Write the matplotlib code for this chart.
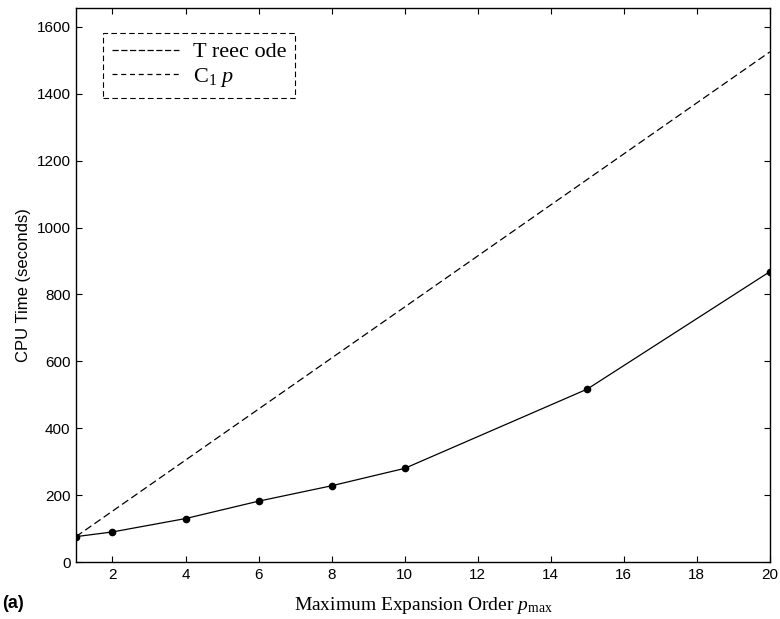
import numpy as np
import matplotlib
matplotlib.use("Agg")
import matplotlib.pyplot as plt
from matplotlib.lines import Line2D

# treecode timings
p_tree = [1, 2, 4, 6, 8, 10, 15, 20]
t_tree = [76, 90, 130, 182, 228, 280, 517, 868]

# reference line C1*p (end points)
p_ref = [1, 20]
t_ref = [76, 1525]

x_ticks = [2, 4, 6, 8, 10, 12, 14, 16, 18, 20]
y_ticks = [0, 200, 400, 600, 800, 1000, 1200, 1400, 1600]

plt.rcParams["mathtext.fontset"] = "custom"
plt.rcParams["mathtext.rm"] = "Liberation Serif"
plt.rcParams["mathtext.it"] = "Liberation Serif:italic"

fig = plt.figure(figsize=(7.8, 6.19), dpi=100)
ax = fig.add_axes([0.0974, 0.092, 0.8896, 0.895])

ax.plot(p_tree, t_tree, color="black", lw=0.9, marker="o", ms=4.5)
ax.plot(p_ref, t_ref, color="black", lw=0.9, ls=(0, (6, 3)))

ax.set_xlim(1, 20)
ax.set_ylim(0, 1656)
ax.set_xticks(x_ticks)
ax.set_yticks(y_ticks)
ax.tick_params(direction="in", top=True, right=True, length=4, width=0.8,
               labelsize=11, pad=4)
for lab in ax.get_xticklabels() + ax.get_yticklabels():
    lab.set_family("Liberation Sans")
for s in ax.spines.values():
    s.set_linewidth(1.0)

ax.set_ylabel("CPU Time (seconds)", family="Liberation Sans", fontsize=12)
ax.set_xlabel(r"Maximum Expansion Order $p_{\mathrm{max}}$",
              family="Liberation Serif", fontsize=14, labelpad=10)
fig.text(0.003, 0.018, "(a)", family="Liberation Sans", fontweight="bold", fontsize=13)

handles = [Line2D([], [], color="black", lw=0.9, ls=(0, (5, 2))),
           Line2D([], [], color="black", lw=0.9, ls=(0, (4, 3)))]
leg = ax.legend(handles, ["T reec ode", r"C$_1$ $p$"], loc="upper left",
                bbox_to_anchor=(0.039, 0.955), borderaxespad=0,
                fancybox=False, framealpha=1,
                edgecolor="black", handlelength=3.0, borderpad=0.4,
                prop={"family": "Liberation Serif", "size": 16},
                labelspacing=0.15, handletextpad=0.65)
leg.get_frame().set_linestyle((0, (5, 3)))
leg.get_frame().set_linewidth(0.8)

fig.savefig("out.png", dpi=100)
